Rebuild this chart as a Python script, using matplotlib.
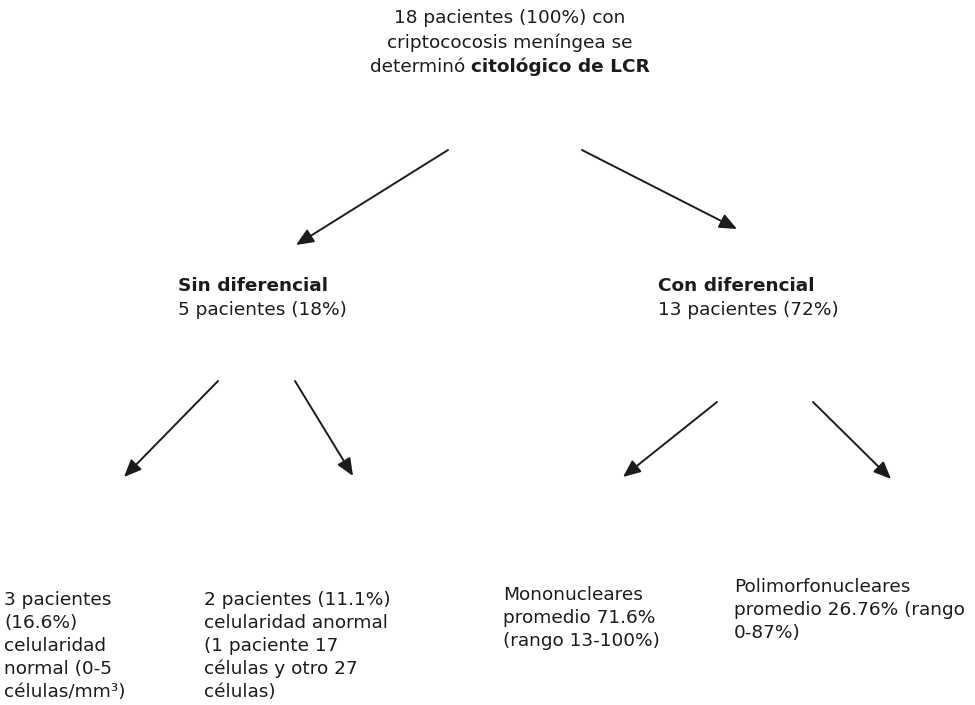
import matplotlib
matplotlib.use('Agg')
from matplotlib import pyplot as plt

# texts of the flowchart
top_lines = ['18 pacientes (100%) con', 'criptococosis meníngea se']
top_last = ['determinó', 'citológico de LCR']   # normal part, bold part

branch_titles = ['Sin diferencial', 'Con diferencial']
branch_counts = ['5 pacientes (18%)', '13 pacientes (72%)']

leaf_texts = [
    ['3 pacientes', '(16.6%)', 'celularidad', 'normal (0-5', 'células/mm³)'],
    ['2 pacientes (11.1%)', 'celularidad anormal', '(1 paciente 17',
     'células y otro 27', 'células)'],
    ['Mononucleares', 'promedio 71.6%', '(rango 13-100%)'],
    ['Polimorfonucleares', 'promedio 26.76% (rango', '0-87%)'],
]

# layout (pixel units, y going down)
W, H = 975, 705
top_x, top_y, top_step = 510, 23, 24.5
branch_xy = [(178, 291), (658, 291)]
branch_step = 24
leaf_xy = [(4, 605), (204, 605), (503, 600), (734, 592)]
leaf_step = 23
edges = [
    ((448, 150), (296, 245)),
    ((582, 150), (737, 229)),
    ((218, 381), (124, 477)),
    ((295, 381), (353, 476)),
    ((717, 402), (623, 477)),
    ((813, 402), (891, 479)),
]

FONT = 'DejaVu Sans'
FS = 13.3
COL = '#1c1c1c'

fig = plt.figure(figsize=(W / 100, H / 100), dpi=100)
ax = fig.add_axes([0, 0, 1, 1])
ax.set_xlim(0, W)
ax.set_ylim(H, 0)
ax.axis('off')

def put(x, y, s, ha='left', weight='normal'):
    return ax.text(x, y, s, ha=ha, va='baseline', fontsize=FS, family=FONT,
                   color=COL, fontweight=weight)

# top node
for i, s in enumerate(top_lines):
    put(top_x, top_y + i * top_step, s, ha='center')
y3 = top_y + len(top_lines) * top_step
t1 = put(0, y3, top_last[0])
t2 = put(0, y3, top_last[1], weight='bold')
fig.canvas.draw()
r = fig.canvas.get_renderer()
w1 = t1.get_window_extent(r).width
w2 = t2.get_window_extent(r).width
gap = 0.32 * FS * 100 / 72
x0 = top_x - (w1 + gap + w2) / 2
t1.set_x(x0)
t2.set_x(x0 + w1 + gap)

# second level
for (x, y), title, cnt in zip(branch_xy, branch_titles, branch_counts):
    put(x, y, title, weight='bold')
    put(x, y + branch_step, cnt)

# leaves
for (x, y), lines in zip(leaf_xy, leaf_texts):
    for i, s in enumerate(lines):
        put(x, y + i * leaf_step, s)

# arrows
for start, end in edges:
    ax.annotate('', xy=end, xytext=start,
                arrowprops=dict(arrowstyle='-|>,head_length=0.7,head_width=0.3',
                                mutation_scale=15, lw=1.4, color=COL,
                                shrinkA=0, shrinkB=0))

fig.savefig('out.png', dpi=100, facecolor='white')
